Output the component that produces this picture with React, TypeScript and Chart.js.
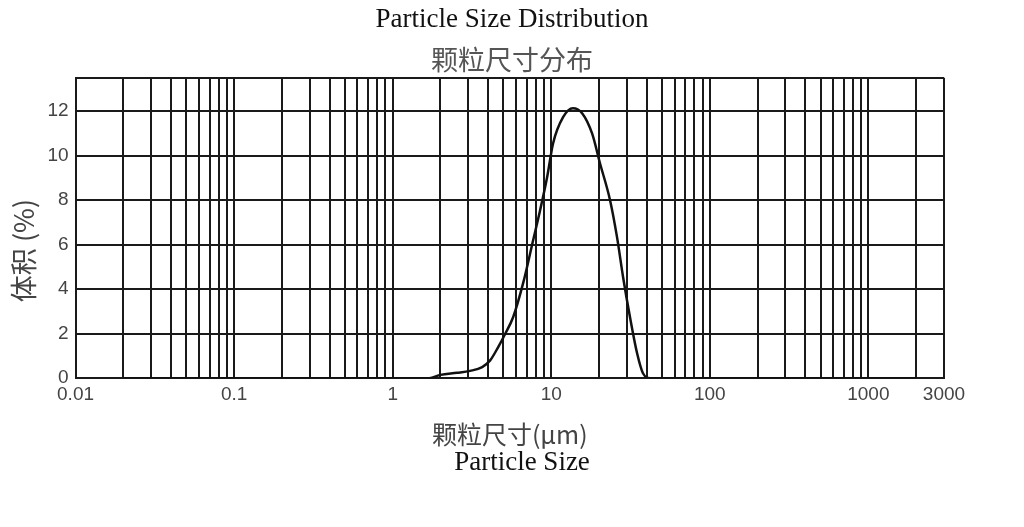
import React, { useEffect, useRef } from "react";
import { Chart, registerables } from "chart.js";

Chart.register(...registerables);

// Particle size (µm) and volume (%)
const sizes = [0.02, 1.7, 2.0, 2.55, 3.08, 3.67, 4.12, 4.63, 5.13, 5.75, 6.65, 7.69, 8.51, 9.42, 10.28, 11.88, 13.7, 15.7, 18.1, 20.3, 23.5, 26.0, 28.4, 31.4, 34.8, 37.9, 42.0, 2000];
const volumes = [0, 0, 0.15, 0.24, 0.33, 0.5, 0.8, 1.4, 2.0, 2.74, 4.27, 6.2, 7.55, 9.03, 10.56, 11.73, 12.13, 11.9, 11.0, 9.66, 8.0, 6.34, 4.54, 2.74, 1.12, 0.22, 0, 0];

// Grid (tick) positions on the log axis
const xGridTicks = [
  0.01, 0.02, 0.03, 0.04, 0.05, 0.06, 0.07, 0.08, 0.09,
  0.1, 0.2, 0.3, 0.4, 0.5, 0.6, 0.7, 0.8, 0.9,
  1, 2, 3, 4, 5, 6, 7, 8, 9,
  10, 20, 30, 40, 50, 60, 70, 80, 90,
  100, 200, 300, 400, 500, 600, 700, 800, 900,
  1000, 2000, 3000,
];
const xLabelTicks = [0.01, 0.1, 1, 10, 100, 1000, 3000];
const yTicks = [0, 2, 4, 6, 8, 10, 12, 13.5];
const yLabelTicks = [0, 2, 4, 6, 8, 10, 12];

const titleText = "Particle Size Distribution";
const subtitleText = "颗粒尺寸分布";
const xTitleCn = "颗粒尺寸(μm)";
const xTitleEn = "Particle Size";
const yTitleCn = "体积 (%)";

export default function App() {
  const ref = useRef<HTMLCanvasElement>(null);

  useEffect(() => {
    if (!ref.current) return;
    const chart = new Chart(ref.current, {
      type: "line",
      data: {
        datasets: [
          {
            data: sizes.map((s, i) => ({ x: s, y: volumes[i] })),
            borderColor: "#111",
            borderWidth: 2.5,
            pointRadius: 0,
            cubicInterpolationMode: "monotone",
            fill: false,
            yAxisID: "y",
          },
        ],
      },
      options: {
        animation: false,
        responsive: true,
        maintainAspectRatio: false,
        layout: { padding: { left: 0, right: 0, top: 0, bottom: 78 } },
        plugins: {
          legend: { display: false },
          tooltip: { enabled: false },
          title: {
            display: true,
            text: titleText,
            color: "#111",
            font: { family: "'Liberation Serif', serif", size: 27, weight: "normal" },
            padding: { top: 4, bottom: 7 },
          },
          subtitle: {
            display: true,
            text: subtitleText,
            color: "#555",
            font: { family: "'Noto Sans CJK SC', sans-serif", size: 27, weight: "normal" },
            padding: { top: 0, bottom: 2 },
          },
        },
        scales: {
          x: {
            type: "logarithmic",
            min: 0.01,
            max: 3000,
            afterBuildTicks: (scale: any) => {
              scale.ticks = xGridTicks.map((v) => ({ value: v }));
            },
            ticks: {
              autoSkip: false,
              maxRotation: 0,
              padding: 5,
              color: "#444",
              font: { family: "'Liberation Sans', sans-serif", size: 19 },
              callback: (value: any) => (xLabelTicks.includes(Number(value)) ? String(value) : ""),
            },
            grid: { color: "#1a1a1a", lineWidth: 2, drawTicks: false },
            border: { display: true, color: "#1a1a1a", width: 2 },
            title: {
              display: true,
              text: xTitleCn,
              color: "#444",
              font: { family: "'Noto Sans CJK SC', sans-serif", size: 25 },
              padding: { top: 8, bottom: 0 },
            },
          },
          y: {
            type: "linear",
            position: "left",
            min: 0,
            max: 13.5,
            afterBuildTicks: (scale: any) => {
              scale.ticks = yTicks.map((v) => ({ value: v }));
            },
            ticks: {
              padding: 7,
              color: "#444",
              font: { family: "'Liberation Sans', sans-serif", size: 19 },
              callback: (value: any) => (yLabelTicks.includes(Number(value)) ? String(value) : ""),
            },
            grid: { color: "#1a1a1a", lineWidth: 2, drawTicks: false },
            border: { display: true, color: "#1a1a1a", width: 2 },
            title: {
              display: true,
              text: yTitleCn + "\u3000   ",
              color: "#444",
              font: { family: "'Noto Sans CJK SC', sans-serif", size: 27 },
              padding: { top: 8, bottom: 0 },
            },
          },
          yRight: {
            type: "linear",
            position: "right",
            display: true,
            min: 0,
            max: 13.5,
            grid: { display: false, drawOnChartArea: false },
            ticks: { display: false },
            border: { display: false },
            afterFit: (scale: any) => {
              scale.width = 80;
            },
          },
        },
      },
    });
    return () => chart.destroy();
  }, []);

  return (
    <div style={{ position: "absolute", left: 0, top: 0, width: 1024, height: 527, background: "#fff" }}>
      <canvas ref={ref} style={{ position: "absolute", left: 0, top: 0 }} />
      <div
        style={{
          position: "absolute",
          left: 522,
          top: 445,
          transform: "translateX(-50%)",
          fontFamily: "'Liberation Serif', serif",
          fontSize: 27,
          color: "#111",
          whiteSpace: "nowrap",
          lineHeight: "32px",
        }}
      >
        {xTitleEn}
      </div>
    </div>
  );
}
